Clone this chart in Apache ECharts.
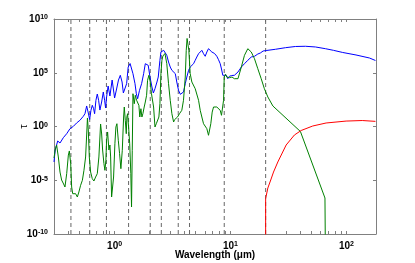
<!DOCTYPE html>
<html><head><meta charset="utf-8">
<script src="https://cdn.jsdelivr.net/npm/echarts@6/dist/echarts.min.js"></script>
<style>html,body{margin:0;padding:0;background:#fff}#c{width:415px;height:263px}</style>
</head><body><div id="c"></div>
<script>
// ---- data (wavelength in micrometres, optical depth tau) ----
const blueWl = [0.3,0.307,0.323,0.338,0.361,0.386,0.412,0.441,0.470,0.502,0.537,0.555,0.574,0.593,0.609,0.625,0.642,0.659,0.672,0.690,0.709,0.728,0.747,0.773,0.799,0.820,0.836,0.853,0.879,0.911,0.952,1.0,1.04,1.08,1.12,1.16,1.19,1.23,1.27,1.31,1.36,1.40,1.44,1.50,1.54,1.58,1.64,1.71,1.78,1.84,1.90,1.95,2.02,2.10,2.16,2.23,2.32,2.38,2.46,2.51,2.57,2.65,2.74,2.82,2.92,3.02,3.12,3.23,3.34,3.44,3.56,3.69,3.80,3.93,4.07,4.20,4.35,4.49,4.64,4.80,4.96,5.12,5.30,5.48,5.66,5.85,6.05,6.25,6.46,6.68,6.90,7.28,7.62,7.88,8.15,8.36,8.58,8.88,9.18,9.48,9.80,10.2,10.8,11.6,12.4,13.2,14.1,15.1,16.1,17.2,18.1,19.1,20.3,24.4,29.8,36.3,44.3,54.1,65.9,77.3,92.9,121,158,178];
const blueTau = [5.0e-4,6.5e-3,4.5e-2,2.9e-2,9.1e-2,0.214,0.624,1.04,2.12,3.77,8.9,15.5,81,18,4.5,32,94,45,15.5,274,1050,274,34,190,1620,274,53,555,5850,687,2.1e4,448,3080,2.1e4,5.8e4,1.38e4,1310,1620,9580,3.4e5,7.2e5,4.9e5,8.2e4,9580,1120,385,2330,9580,8.2e4,6.95e5,1.0e6,4.9e5,4.0e4,4720,1310,3280,1.38e4,4.0e4,1.44e6,8.5e6,5.9e6,1.22e7,8.5e6,4.2e6,1.0e6,3.4e5,1.69e5,1.17e5,8.2e4,1.38e4,2330,990,800,1620,9580,4.0e4,1.69e5,3.4e5,2.38e5,6.95e5,1.44e6,2.9e6,5.9e6,8.5e6,1.22e7,5.9e6,3.4e6,8.5e6,1.73e7,1.22e7,8.5e6,6.2e6,3.4e6,1.64e6,6.95e5,2.23e5,5.8e4,4.0e4,5.8e4,2.8e4,4.7e4,5.5e4,5.8e4,1.17e5,3.4e5,6.95e5,1.44e6,2.9e6,3.4e6,5.5e6,6.9e6,1.05e7,1.17e7,1.52e7,2.14e7,2.77e7,2.9e7,2.5e7,1.73e7,1.22e7,7.7e6,4.5e6,2.36e6,1.38e6];

const greenWl = [0.3,0.307,0.316,0.327,0.338,0.349,0.363,0.373,0.386,0.399,0.407,0.418,0.426,0.435,0.446,0.461,0.477,0.492,0.509,0.527,0.544,0.562,0.574,0.583,0.593,0.605,0.621,0.642,0.663,0.686,0.709,0.732,0.757,0.773,0.788,0.809,0.825,0.841,0.853,0.870,0.893,0.911,0.924,0.942,0.961,0.980,1.006,1.026,1.047,1.076,1.104,1.133,1.165,1.196,1.212,1.236,1.261,1.276,1.294,1.32,1.35,1.38,1.40,1.42,1.44,1.458,1.478,1.508,1.548,1.58,1.62,1.65,1.686,1.72,1.754,1.80,1.84,1.888,1.925,1.976,2.03,2.08,2.17,2.23,2.29,2.35,2.41,2.46,2.51,2.56,2.61,2.72,2.82,2.92,3.02,3.12,3.23,3.29,3.40,3.49,3.63,3.80,3.93,4.07,4.15,4.22,4.30,4.37,4.49,4.64,4.80,4.96,5.12,5.30,5.48,5.66,5.85,6.05,6.25,6.46,6.59,6.76,6.95,7.14,7.38,7.62,7.88,8.15,8.36,8.58,8.71,8.83,9.06,9.29,9.55,9.80,10.3,10.8,11.6,12.4,13.2,14.1,15.1,16.1,17.2,18.4,19.6,21.0,23.2,40.1,65.3,65.9];
const greenTau = [1.17e-3,6.5e-3,1.9e-2,1.46e-3,5.8e-5,1.05e-5,4.5e-6,2.36e-6,4.1e-5,2.2e-3,5.3e-3,3.5e-4,2.36e-6,5.6e-7,3.8e-7,5.6e-7,2.77e-7,8.1e-7,3.4e-6,9.9e-6,8.4e-5,1.46e-3,0.162,6.2,0.472,1.46e-3,5.8e-5,1.39e-5,8.5e-6,2.0e-5,4.1e-5,1.46e-3,1.71,0.200,6.5e-3,3.5e-4,8.4e-5,7.2e-4,5.5e-2,0.308,6.5e-3,1.9e-2,1.46e-3,2.77e-7,1.92e-7,2.0e-5,2.5e-2,0.90,1.82,5.2e-2,2.95e-3,1.19e-4,6.1e-3,7.65,65,3.77,0.214,7.65,15.5,0.90,2.5e-2,4.1e-5,3.25e-8,6.1e-3,1120,1620,132,800,274,190,94,7.65,45,7.65,15.5,65,190,800,1.99e4,5.8e4,1.38e4,1120,65,0.90,1.82,1.29,7.65,132,8.2e4,1.44e6,3.6e6,6.2e6,6.95e5,9580,274,15.5,2.62,4.3,3.77,7.65,15.5,32,274,4.0e4,1.22e7,1.54e8,1.04e8,1.22e7,8.2e4,1.38e4,1.99e4,3280,2330,274,32,7.65,1.82,2.62,0.624,0.152,0.105,1.82,22,65,45,65,45,32,11,7.65,274,4.0e4,7.2e4,4.0e4,5.0e4,3.5e4,4.0e4,2.8e4,2.8e4,3.4e5,4.2e6,1.73e7,8.5e6,2.03e6,2.38e5,2.8e4,3280,555,81,0.343,2.23e-7,1e-12];

const redWl  = [20.1,20.1,21.0,22.4,23.5,25.6,30.2,35.6,40.7,51.2,66.8,99.4,137,178];
const redTau = [1e-12,2.0e-7,1.9e-6,1.31e-5,5.8e-5,5.0e-4,1.9e-2,0.162,0.425,1.11,2.12,3.2,3.6,3.0];

const bandWl = [0.42,0.61,0.85,1.32,2.03,2.53,3.54,4.43,8.83,20.1];

const xMajorTicks = [1,10,100];
const xMinorTicks = [0.3,0.4,0.5,0.6,0.7,0.8,0.9,2,3,4,5,6,7,8,9,20,30,40,50,60,70,80,90];
const yMajorTicks = [1e-10,1e-5,1,1e5,1e10];
const xRange = [0.3,180];
const yRange = [1e-10,1e10];

// ---- chart ----
const chart = echarts.init(document.getElementById('c'), null, {renderer:'canvas'});
const pairs = (xs, ys) => xs.map((x, i) => [x, ys[i]]);
const expLabel = v => '{b|10}{s|' + Math.round(Math.log10(v)) + '}';
const FONT = 'Liberation Sans';
const rich = {
  b:{fontSize:10, fontWeight:'bold', color:'#000', fontFamily:FONT, verticalAlign:'bottom'},
  s:{fontSize:7, fontWeight:'bold', color:'#000', fontFamily:FONT, verticalAlign:'top'}
};
const frameColor = '#808080';
const allXTicks = xMajorTicks.concat(xMinorTicks).sort((a,b)=>a-b);

function xAx(pos, showLabel){
  return {
    type:'log', logBase:10, min:xRange[0], max:xRange[1], position:pos,
    axisLine:{show:true, onZero:false, lineStyle:{color:frameColor, width:1}},
    axisTick:{show:true, inside:true, length:3, customValues:allXTicks, lineStyle:{color:frameColor, width:1}},
    axisLabel:{show:showLabel, customValues:xMajorTicks, formatter:expLabel, rich:rich, margin:7},
    splitLine:{show:false},
    name: showLabel ? 'Wavelength (\u03bcm)' : '',
    nameLocation:'middle', nameGap:16, nameMoveOverlap:false,
    nameTextStyle:{fontSize:10, fontWeight:'bold', color:'#000', fontFamily:FONT}
  };
}
function yAx(pos, showLabel){
  return {
    type:'log', logBase:10, min:yRange[0], max:yRange[1], position:pos,
    axisLine:{show:true, onZero:false, lineStyle:{color:frameColor, width:1}},
    axisTick:{show:true, inside:true, length:3, customValues:yMajorTicks, lineStyle:{color:frameColor, width:1}},
    axisLabel:{show:showLabel, customValues:yMajorTicks, formatter:expLabel, rich:rich, margin:6},
    splitLine:{show:false},
    name: showLabel ? '\u03c4' : '',
    nameLocation:'middle', nameGap:25, nameRotate:90, nameMoveOverlap:false,
    nameTextStyle:{fontSize:11, color:'#000', fontFamily:FONT}
  };
}

const series = [];
bandWl.forEach(w => series.push({
  type:'line', data:[[w, yRange[0]],[w, yRange[1]]], symbol:'none', silent:true,
  lineStyle:{color:'#666', width:1, type:[4,3]}, animation:false
}));
series.push({type:'line', data:pairs(blueWl, blueTau), symbol:'none', lineStyle:{color:'#0000ff', width:1}, animation:false, clip:true});
series.push({type:'line', data:pairs(greenWl, greenTau), symbol:'none', lineStyle:{color:'#008000', width:1}, animation:false, clip:true});
series.push({type:'line', data:pairs(redWl, redTau), symbol:'none', lineStyle:{color:'#ff0000', width:1}, animation:false, clip:true});

chart.setOption({
  animation:false,
  backgroundColor:'#fff',
  grid:{left:54, right:39, top:19, bottom:29, containLabel:false, outerBoundsMode:'none'},
  xAxis:[xAx('bottom', true), xAx('top', false)],
  yAxis:[yAx('left', true), yAx('right', false)],
  series: series
});
</script></body></html>
